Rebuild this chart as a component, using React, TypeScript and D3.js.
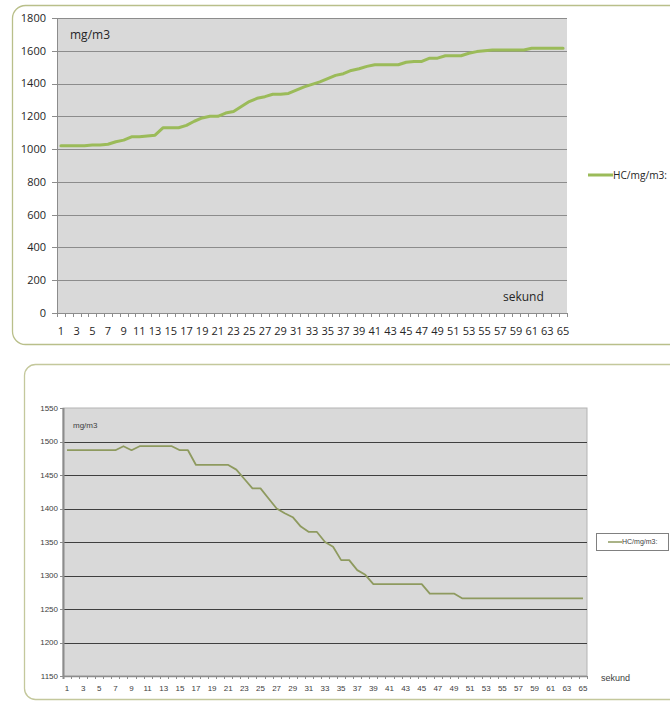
import { useEffect, useRef } from 'react';
import * as d3 from 'd3';

// x axis: seconds 1..65
const seconds = Array.from({ length: 65 }, (_, i) => i + 1);

// upper chart, HC in mg/m3 rising
const hcRising = [
    1020, 1020, 1020, 1020, 1025, 1025, 1030, 1045, 1055, 1075,
    1075, 1080, 1085, 1130, 1130, 1130, 1145, 1170, 1190, 1200,
    1200, 1220, 1230, 1260, 1290, 1310, 1320, 1335, 1335, 1340,
    1360, 1380, 1395, 1410, 1430, 1450, 1460, 1480, 1490, 1505,
    1515, 1515, 1515, 1515, 1530, 1535, 1535, 1555, 1555, 1570,
    1570, 1570, 1585, 1595, 1600, 1605, 1605, 1605, 1605, 1605,
    1615, 1615, 1615, 1615, 1615,
];
const risingTicks = [0, 200, 400, 600, 800, 1000, 1200, 1400, 1600, 1800];

// lower chart, HC in mg/m3 falling
const hcFalling = [
    1487, 1487, 1487, 1487, 1487, 1487, 1487, 1493, 1487, 1493,
    1493, 1493, 1493, 1493, 1487, 1487, 1465, 1465, 1465, 1465,
    1465, 1458, 1444, 1430, 1430, 1415, 1400, 1393, 1387, 1373,
    1365, 1365, 1350, 1343, 1323, 1323, 1308, 1301, 1287, 1287,
    1287, 1287, 1287, 1287, 1287, 1273, 1273, 1273, 1273, 1266,
    1266, 1266, 1266, 1266, 1266, 1266, 1266, 1266, 1266, 1266,
    1266, 1266, 1266, 1266, 1266,
];
const fallingTicks = [1150, 1200, 1250, 1300, 1350, 1400, 1450, 1500, 1550];

const seriesName = 'HC/mg/m3:';
const yTitle = 'mg/m3';
const xTitle = 'sekund';

type Sel = d3.Selection<SVGGElement, unknown, null, undefined>;

function categoryScale(left: number, right: number) {
    return d3.scaleBand<number>().domain(seconds).range([left, right]).padding(0);
}

function drawUpper(g: Sel) {
    const left = 57, right = 567, top = 18, bottom = 313;
    const font = '"Open Sans", "Noto Sans", sans-serif';
    const x = categoryScale(left, right);
    const y = d3.scaleLinear().domain([0, 1800]).range([bottom, top]);
    const cx = (d: number) => x(d)! + x.bandwidth() / 2;

    g.append('rect')
        .attr('x', 12.5).attr('y', 5.5).attr('width', 690).attr('height', 339).attr('rx', 13)
        .attr('fill', '#fff').attr('stroke', '#b9bf8a').attr('stroke-width', 1.3);

    g.append('rect')
        .attr('x', left).attr('y', top).attr('width', right - left).attr('height', bottom - top)
        .attr('fill', '#d9d9d9');

    g.selectAll('line.grid').data(risingTicks.filter(t => t > 0)).join('line')
        .attr('class', 'grid')
        .attr('x1', left).attr('x2', right)
        .attr('y1', d => Math.round(y(d)) + 0.5).attr('y2', d => Math.round(y(d)) + 0.5)
        .attr('stroke', '#8c8c8c');

    // axis lines + ticks
    g.append('line').attr('x1', left + 0.5).attr('x2', left + 0.5).attr('y1', top).attr('y2', bottom + 4)
        .attr('stroke', '#8c8c8c');
    g.append('line').attr('x1', left).attr('x2', right).attr('y1', bottom + 0.5).attr('y2', bottom + 0.5)
        .attr('stroke', '#8c8c8c');
    g.selectAll('line.yt').data(risingTicks).join('line')
        .attr('class', 'yt')
        .attr('x1', left - 5).attr('x2', left)
        .attr('y1', d => Math.round(y(d)) + 0.5).attr('y2', d => Math.round(y(d)) + 0.5)
        .attr('stroke', '#8c8c8c');
    g.selectAll('line.xt').data(seconds).join('line')
        .attr('class', 'xt')
        .attr('x1', d => Math.round(x(d)! + x.bandwidth()) + 0.5)
        .attr('x2', d => Math.round(x(d)! + x.bandwidth()) + 0.5)
        .attr('y1', bottom).attr('y2', bottom + 4)
        .attr('stroke', '#8c8c8c');

    g.selectAll('text.yl').data(risingTicks).join('text')
        .attr('class', 'yl')
        .attr('x', 46).attr('y', d => y(d)).attr('dy', '0.35em')
        .attr('text-anchor', 'end')
        .attr('font-family', font).attr('font-size', 11).attr('fill', '#262626')
        .text(d => d);
    g.selectAll('text.xl').data(seconds.filter(d => d % 2 === 1)).join('text')
        .attr('class', 'xl')
        .attr('x', cx).attr('y', 335)
        .attr('text-anchor', 'middle')
        .attr('font-family', font).attr('font-size', 11).attr('fill', '#262626')
        .text(d => d);

    g.append('text').attr('x', 70).attr('y', 39)
        .attr('font-family', font).attr('font-size', 12).attr('fill', '#262626').text(yTitle);
    g.append('text').attr('x', 503).attr('y', 301)
        .attr('font-family', font).attr('font-size', 12).attr('fill', '#262626').text(xTitle);

    const line = d3.line<number>().x((_, i) => cx(seconds[i])).y(d => y(d));
    g.append('path').datum(hcRising)
        .attr('d', line)
        .attr('fill', 'none').attr('stroke', '#9bbb59').attr('stroke-width', 3)
        .attr('stroke-linejoin', 'round').attr('stroke-linecap', 'round');

    // legend
    g.append('line').attr('x1', 588).attr('x2', 613).attr('y1', 175).attr('y2', 175)
        .attr('stroke', '#9bbb59').attr('stroke-width', 3);
    g.append('text').attr('x', 613).attr('y', 175).attr('dy', '0.35em')
        .attr('font-family', font).attr('font-size', 10.5).attr('fill', '#262626')
        .attr('textLength', 54).attr('lengthAdjust', 'spacingAndGlyphs')
        .text(seriesName);
}

function drawLower(g: Sel) {
    const left = 63, right = 587, top = 408, bottom = 676;
    const font = '"Liberation Sans", Arial, sans-serif';
    const x = categoryScale(left, right);
    const y = d3.scaleLinear().domain([1150, 1550]).range([bottom, top]);
    const cx = (d: number) => x(d)! + x.bandwidth() / 2;

    g.append('rect')
        .attr('x', 24.5).attr('y', 364.5).attr('width', 690).attr('height', 335).attr('rx', 11)
        .attr('fill', '#fff').attr('stroke', '#c4c89c').attr('stroke-width', 1.3);

    g.append('rect')
        .attr('x', left).attr('y', top).attr('width', right - left).attr('height', bottom - top)
        .attr('fill', '#d9d9d9').attr('stroke', '#b3b3b3');

    g.selectAll('line.grid').data(fallingTicks.filter(t => t > 1150 && t < 1550)).join('line')
        .attr('class', 'grid')
        .attr('x1', left).attr('x2', right)
        .attr('y1', d => Math.round(y(d)) + 0.5).attr('y2', d => Math.round(y(d)) + 0.5)
        .attr('stroke', '#3f3f3f').attr('stroke-width', 1.2);

    g.append('line').attr('x1', left + 0.5).attr('x2', left + 0.5).attr('y1', top).attr('y2', bottom + 3)
        .attr('stroke', '#8c8c8c').attr('stroke-width', 2);
    g.append('line').attr('x1', left).attr('x2', right).attr('y1', bottom + 0.5).attr('y2', bottom + 0.5)
        .attr('stroke', '#8c8c8c').attr('stroke-width', 1.5);
    g.selectAll('line.yt').data(fallingTicks).join('line')
        .attr('class', 'yt')
        .attr('x1', left - 3).attr('x2', left)
        .attr('y1', d => Math.round(y(d)) + 0.5).attr('y2', d => Math.round(y(d)) + 0.5)
        .attr('stroke', '#8c8c8c');
    g.selectAll('line.xt').data(seconds).join('line')
        .attr('class', 'xt')
        .attr('x1', d => Math.round(x(d)! + x.bandwidth()) + 0.5)
        .attr('x2', d => Math.round(x(d)! + x.bandwidth()) + 0.5)
        .attr('y1', bottom).attr('y2', bottom + 3)
        .attr('stroke', '#8c8c8c');

    g.selectAll('text.yl').data(fallingTicks).join('text')
        .attr('class', 'yl')
        .attr('x', 58).attr('y', d => y(d)).attr('dy', '0.35em')
        .attr('text-anchor', 'end')
        .attr('font-family', font).attr('font-size', 8).attr('fill', '#404040')
        .text(d => d);
    g.selectAll('text.xl').data(seconds.filter(d => d % 2 === 1)).join('text')
        .attr('class', 'xl')
        .attr('x', cx).attr('y', 688).attr('dy', '0.35em')
        .attr('text-anchor', 'middle')
        .attr('font-family', font).attr('font-size', 8).attr('fill', '#404040')
        .text(d => d);

    g.append('text').attr('x', 73).attr('y', 428)
        .attr('font-family', font).attr('font-size', 8).attr('fill', '#404040').text(yTitle);
    g.append('text').attr('x', 601).attr('y', 681)
        .attr('font-family', font).attr('font-size', 9).attr('fill', '#404040').text(xTitle);

    const line = d3.line<number>().x((_, i) => cx(seconds[i])).y(d => y(d));
    g.append('path').datum(hcFalling)
        .attr('d', line)
        .attr('fill', 'none').attr('stroke', '#8e9a5f').attr('stroke-width', 1.8)
        .attr('stroke-linejoin', 'round');

    // legend box
    g.append('rect').attr('x', 596.5).attr('y', 533.5).attr('width', 72).attr('height', 17)
        .attr('fill', '#fff').attr('stroke', '#808080');
    g.append('line').attr('x1', 608).attr('x2', 622).attr('y1', 542).attr('y2', 542)
        .attr('stroke', '#8e9a5f').attr('stroke-width', 1.5);
    g.append('text').attr('x', 622).attr('y', 542).attr('dy', '0.35em')
        .attr('font-family', font).attr('font-size', 7).attr('fill', '#404040').text(seriesName);
}

export default function App() {
    const ref = useRef<SVGSVGElement | null>(null);

    useEffect(() => {
        if (!ref.current) return;
        const svg = d3.select(ref.current);
        svg.selectAll('*').remove();
        drawUpper(svg.append('g'));
        drawLower(svg.append('g'));
    }, []);

    return (
        <svg
            ref={ref}
            width={670}
            height={702}
            style={{ position: 'absolute', left: 0, top: 0, background: '#fff' }}
        />
    );
}
